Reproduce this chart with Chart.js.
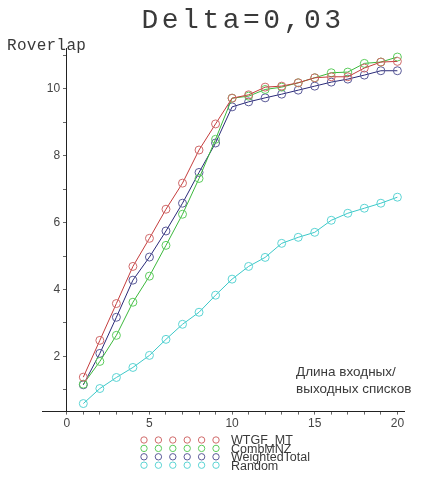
<!DOCTYPE html>
<html>
<head>
<meta charset="utf-8">
<script src="https://cdn.jsdelivr.net/npm/chart.js@4.4.0/dist/chart.umd.min.js"></script>
<style>
  html, body { margin: 0; padding: 0; background: #fff; }
  #wrap { width: 423px; height: 480px; position: relative; }
</style>
</head>
<body>
<div id="wrap"><canvas id="chart" width="423" height="480"></canvas></div>
<script>
/*
Data
*/
const listLengths = [1, 2, 3, 4, 5, 6, 7, 8, 9, 10, 11, 12, 13, 14, 15, 16, 17, 18, 19, 20];

const wtgfMt = [1.38, 2.48, 3.58, 4.69, 5.53, 6.40, 7.18, 8.17, 8.95, 9.72,
                9.82, 10.05, 10.08, 10.18, 10.33, 10.36, 10.36, 10.62, 10.80, 10.82];
const combMnz = [1.17, 1.85, 2.63, 3.62, 4.40, 5.32, 6.25, 7.32, 8.49, 9.72,
                 9.78, 9.98, 10.05, 10.18, 10.33, 10.48, 10.50, 10.76, 10.80, 10.95];
const weightedTotal = [1.15, 2.09, 3.17, 4.28, 4.97, 5.75, 6.58, 7.50, 8.38, 9.46,
                       9.61, 9.73, 9.84, 9.96, 10.08, 10.20, 10.29, 10.41, 10.54, 10.54];
const random = [0.59, 1.04, 1.37, 1.67, 2.03, 2.51, 2.96, 3.32, 3.83, 4.31,
                4.69, 4.96, 5.38, 5.56, 5.71, 6.07, 6.28, 6.43, 6.58, 6.76];

const seriesNames = ["WTGF_MT", "CombMNZ", "WeightedTotal", "Random"];
const xTicks = [0, 5, 10, 15, 20];
const yTicks = [2, 4, 6, 8, 10];

function toPoints(values) {
    return values.map((v, i) => ({ x: listLengths[i], y: v }));
}

function makeSeries(label, values, lineColor, markColor) {
    return {
        label: label,
        data: toPoints(values),
        borderColor: lineColor,
        borderWidth: 1,
        pointBorderColor: markColor,
        pointBackgroundColor: "rgba(255,255,255,0)",
        pointBorderWidth: 1,
        pointRadius: 4,
        pointHoverRadius: 4,
        showLine: true,
        tension: 0
    };
}

/*
Extra texts: title, axis captions and the old-style legend
*/
const decorations = {
    id: "decorations",
    afterDraw(chart) {
        const ctx = chart.ctx;
        ctx.save();
        ctx.fillStyle = "#3a3a3a";
        ctx.textBaseline = "alphabetic";

        ctx.font = "28px 'Liberation Mono'";
        ctx.letterSpacing = "3.5px";
        ctx.textAlign = "center";
        ctx.fillText("Delta=0,03", 243, 28);

        ctx.font = "16px 'Liberation Mono'";
        ctx.letterSpacing = "0.3px";
        ctx.textAlign = "left";
        ctx.fillText("Roverlap", 7, 50);

        ctx.letterSpacing = "0px";
        ctx.font = "13.5px 'Liberation Sans'";
        ctx.fillStyle = "#3a3a3a";
        ctx.fillText("Длина входных/", 296, 376);
        ctx.fillText("выходных списков", 296, 393);

        // legend
        ctx.font = "12.5px 'Liberation Sans'";
        ctx.textBaseline = "middle";
        chart.data.datasets.forEach((ds, i) => {
            const y = 440 + i * 8.4;
            ctx.strokeStyle = ds.pointBorderColor;
            ctx.lineWidth = 1;
            for (let k = 0; k < 6; k++) {
                ctx.beginPath();
                ctx.arc(144 + k * 14.4, y, 3.2, 0, Math.PI * 2);
                ctx.stroke();
            }
            ctx.fillStyle = "#3a3a3a";
            ctx.fillText(seriesNames[i], 231, y + 1);
        });
        ctx.restore();
    }
};

const ctx = document.getElementById("chart").getContext("2d");
new Chart(ctx, {
    type: "scatter",
    data: {
        datasets: [
            makeSeries(seriesNames[0], wtgfMt, "#c43c3c", "#d06a6a"),
            makeSeries(seriesNames[1], combMnz, "#3cb83c", "#5ccc5c"),
            makeSeries(seriesNames[2], weightedTotal, "#2a2a78", "#5a5a98"),
            makeSeries(seriesNames[3], random, "#3cc8c8", "#5cd4d4")
        ]
    },
    options: {
        responsive: false,
        animation: false,
        layout: { padding: { left: 42, right: 19, top: 48, bottom: 47 } },
        plugins: {
            legend: { display: false },
            tooltip: { enabled: false },
            title: { display: false }
        },
        scales: {
            x: {
                type: "linear",
                position: "bottom",
                min: -1.5,
                max: 20.4,
                afterBuildTicks: (axis) => {
                    axis.ticks = [];
                    for (let v = 0; v <= 20; v++) axis.ticks.push({ value: v });
                },
                ticks: {
                    autoSkip: false,
                    maxRotation: 0,
                    padding: 2,
                    color: "#444",
                    font: { family: "'Liberation Sans'", size: 12 },
                    callback: (v) => xTicks.includes(v) ? String(v) : ""
                },
                grid: { drawOnChartArea: false, tickLength: 3, color: "#666" },
                border: { color: "#222", width: 1 }
            },
            y: {
                type: "linear",
                position: { x: 0 },
                min: 0.35,
                max: 11.22,
                afterBuildTicks: (axis) => {
                    axis.ticks = [];
                    for (let v = 1; v <= 11; v++) axis.ticks.push({ value: v });
                },
                ticks: {
                    autoSkip: false,
                    padding: 5,
                    color: "#444",
                    font: { family: "'Liberation Sans'", size: 12 },
                    callback: (v) => yTicks.includes(v) ? String(v) + "  " : ""
                },
                grid: { drawOnChartArea: false, tickLength: 3, color: "#666" },
                border: { color: "#222", width: 1 }
            }
        }
    },
    plugins: [decorations]
});
</script>
</body>
</html>
